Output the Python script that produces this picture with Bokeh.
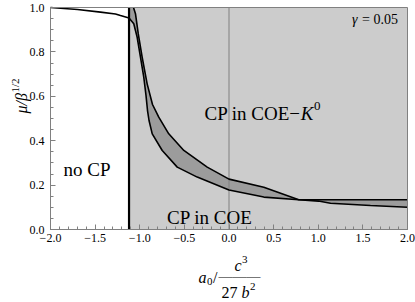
import math
from bokeh.plotting import figure
from bokeh.models import Range1d, FixedTicker, Label, Span
from bokeh.embed import file_html
from bokeh.resources import INLINE

# ---------------- data ----------------
boundary_x = -1.12          # vertical CP boundary
x_min, x_max = -2.0, 2.0
y_min, y_max = 0.0, 1.0
lower_x = [-2.0, -1.697, -1.44, -1.272, -1.216, -1.12, -1.067, -1.029, -0.992, -0.955,
           -0.93, -0.913, -0.896, -0.86, -0.748, -0.58, -0.356, 0.0, 0.39, 0.782,
           1.003, 1.137, 1.585, 2.0]
lower_y = [1.0, 0.991, 0.979, 0.971, 0.964, 0.953, 0.927, 0.866, 0.776, 0.686,
           0.604, 0.536, 0.491, 0.431, 0.356, 0.281, 0.236, 0.178, 0.146, 0.134,
           0.128, 0.118, 0.108, 0.100]
upper_x = [-1.07, -1.048, -1.017, -0.973, -0.917, -0.857, -0.787, -0.675, -0.506,
           -0.244, 0.0, 0.39, 0.782, 2.0]
upper_y = [1.0, 0.972, 0.882, 0.776, 0.656, 0.563, 0.506, 0.431, 0.356,
           0.281, 0.227, 0.19, 0.134, 0.134]

x_major = [-2.0, -1.5, -1.0, -0.5, 0.0, 0.5, 1.0, 1.5, 2.0]
x_labels = ["\u22122.0", "\u22121.5", "\u22121.0", "\u22120.5", "0.0", "0.5", "1.0", "1.5", "2.0"]
y_major = [0.0, 0.2, 0.4, 0.6, 0.8, 1.0]
y_labels = ["0.0", "0.2", "0.4", "0.6", "0.8", "1.0"]

# ---------------- pixel layout helpers ----------------
W, H = 415, 300
FL, FR, FT, FB = 50, 407, 7, 229      # frame edges in page pixels


def X(px):
    return x_min + (px - FL) * (x_max - x_min) / (FR - FL)


def Y(py):
    return y_min + (FB - py) * (y_max - y_min) / (FB - FT)


FONT = "Liberation Serif"
GRAY = "#808080"
p = figure(width=W, height=H, x_range=Range1d(X(0), X(W)), y_range=Range1d(Y(H), Y(0)),
           output_backend="svg", toolbar_location=None,
           min_border_left=0, min_border_right=0, min_border_top=0, min_border_bottom=0)
p.grid.visible = False
p.background_fill_color = "white"
p.border_fill_color = "white"
p.outline_line_color = None

x_minor = [round(-2 + 0.1 * i, 2) for i in range(41)]
y_minor = [round(0.05 * i, 2) for i in range(21)]
p.xaxis.ticker = FixedTicker(ticks=x_major, minor_ticks=x_minor)
p.yaxis.ticker = FixedTicker(ticks=y_major, minor_ticks=y_minor)
p.xaxis.major_label_overrides = {v: s for v, s in zip(x_major, x_labels)}
p.yaxis.major_label_overrides = {v: s for v, s in zip(y_major, y_labels)}
p.xaxis.fixed_location = y_min
p.yaxis.fixed_location = x_min
p.xaxis.bounds = (x_min, x_max)
p.yaxis.bounds = (y_min, y_max)
for ax in (p.xaxis, p.yaxis):
    ax.axis_line_color = GRAY
    ax.major_tick_line_color = GRAY
    ax.minor_tick_line_color = GRAY
    ax.major_tick_in = 5
    ax.major_tick_out = 0
    ax.minor_tick_in = 3
    ax.minor_tick_out = 0
    ax.major_label_text_font = FONT
    ax.major_label_text_font_size = "12px"
    ax.major_label_text_color = "black"
p.xaxis.major_label_standoff = 4
p.yaxis.major_label_standoff = 6

# ---------------- regions ----------------
p.quad(left=boundary_x, right=x_max, bottom=y_min, top=y_max,
       fill_color="#cccccc", line_color=None)

start = lower_x.index(boundary_x)
patch_x = [boundary_x] + lower_x[start:] + upper_x[::-1]
patch_y = [y_max] + lower_y[start:] + upper_y[::-1]
p.patch(patch_x, patch_y, fill_color="#9c9c9c", line_color=None)

p.segment(x0=[0.0], y0=[y_min], x1=[0.0], y1=[y_max], line_color=GRAY, line_width=1)

p.line(lower_x, lower_y, line_color="black", line_width=1.6)
p.line(upper_x, upper_y, line_color="black", line_width=1.6)
p.segment(x0=[boundary_x], y0=[y_min], x1=[boundary_x], y1=[y_max],
          line_color="black", line_width=2.2)

# plot frame (top/right sides; left/bottom are the axes)
p.quad(left=x_min, right=x_max, bottom=y_min, top=y_max,
       fill_color=None, line_color=GRAY, line_width=1)


# ---------------- text ----------------
def lab(text, px, py, size, italic=False, angle=0.0):
    p.add_layout(Label(x=X(px), y=Y(py), text=text, text_font=FONT,
                       text_font_size=f"{size}px",
                       text_font_style="italic" if italic else "normal",
                       text_align="left", text_baseline="alphabetic",
                       angle=angle, text_color="black"))


lab("\u03b3", 351.5, 19, 14, italic=True)
lab("= 0.05", 361.5, 19, 14)

lab("CP in COE\u2212", 204, 113, 19)
lab("K", 300.2, 113, 19, italic=True)
lab("0", 313.5, 105, 13)

lab("no CP", 63, 169, 19)
lab("CP in COE", 166.5, 217, 19)

# x-axis label  a0 / (c^3 / 27 b^2)
lab("a", 198, 277, 16, italic=True)
lab("0", 206.5, 281, 11)
lab("/", 212.5, 277, 16)
lab("\u2014\u2014\u2014", 218, 275.5, 14)
lab("c", 234, 265, 16, italic=True)
lab("3", 241.5, 259, 11)
lab("27", 221, 292, 16)
lab("b", 241, 292, 16, italic=True)
lab("2", 249.5, 286, 11)

# y-axis label  mu / beta^(1/2)
lab("\u03bc/\u03b2", 21, 113, 16, italic=True, angle=math.pi / 2)
lab("1/2", 14.5, 92, 11, angle=math.pi / 2)

open("out.html", "w").write(file_html(p, INLINE))
